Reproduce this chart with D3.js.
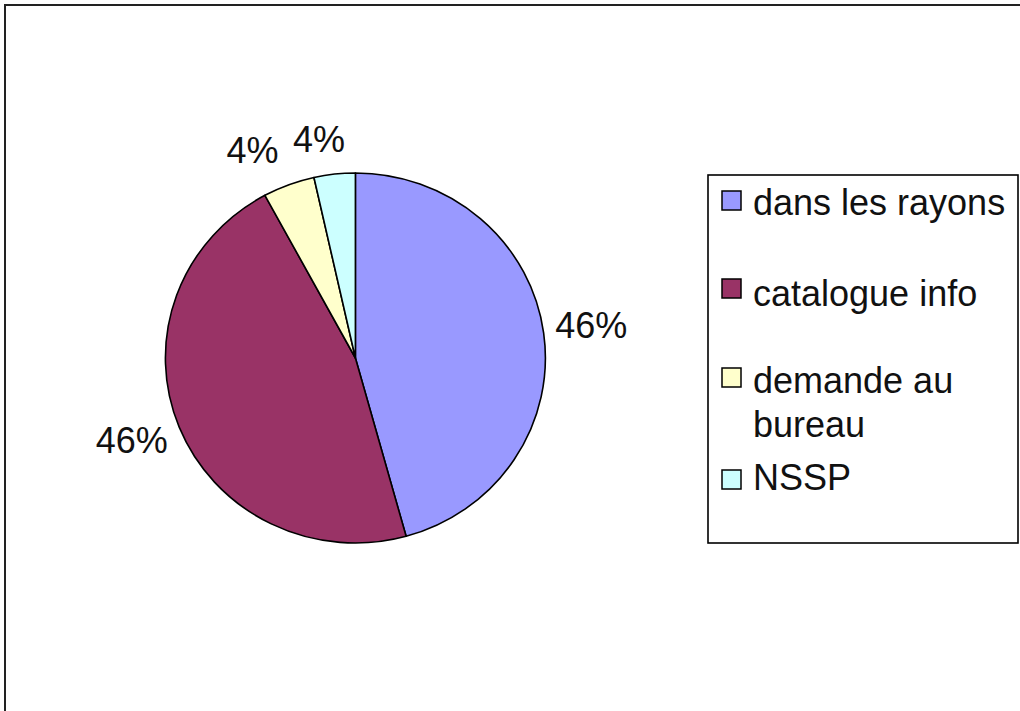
<!DOCTYPE html>
<html>
<head>
<meta charset="utf-8">
<script src="https://cdn.jsdelivr.net/npm/d3@7"></script>
<style>
  html, body { margin: 0; padding: 0; background: #fff; }
  svg { display: block; }
  text { font-family: "Liberation Sans", Arial, sans-serif; }
</style>
</head>
<body>
<svg id="chart" width="1020" height="711"></svg>
<script>
// ---- data ----
const categories = ["dans les rayons", "catalogue info", "demande au bureau", "NSSP"];
const legendLines = [["dans les rayons"], ["catalogue info"], ["demande au", "bureau"], ["NSSP"]];
const values = [45.7, 46.4, 4.4, 3.5];
const colors = ["#9999FF", "#993366", "#FFFFCC", "#CCFFFF"];

// ---- layout ----
const cx = 355.4, cy = 358, rx = 190, ry = 185;
const labelRadius = 238;
const fontSize = 36;
const labelNudge = [[0, 0], [-3, -6.5], [-19.5, 15.4], [-10.3, 18.1]];
const legendBaselines = [215, 306, 393, 490];
const legendSquareTops = [191, 279, 368, 470];
const lineHeight = 44;

const svg = d3.select("#chart");

// outer frame (extends past the bottom/right edges)
svg.append("rect")
  .attr("x", 5).attr("y", 5).attr("width", 1200).attr("height", 900)
  .attr("fill", "none").attr("stroke", "#222").attr("stroke-width", 2);

const pie = d3.pie().sort(null).value(d => d)
  .startAngle(0).endAngle(2 * Math.PI);
const arcs = pie(values);
const arc = d3.arc().innerRadius(0).outerRadius(rx);

const g = svg.append("g")
  .attr("transform", `translate(${cx},${cy}) scale(1,${ry / rx})`);

g.selectAll("path.slice")
  .data(arcs)
  .join("path")
  .attr("class", "slice")
  .attr("d", arc)
  .attr("fill", (d, i) => colors[i])
  .attr("stroke", "#000")
  .attr("stroke-width", 1.6)
  .attr("stroke-linejoin", "round")
  .attr("vector-effect", "non-scaling-stroke");

// percentage labels
const total = d3.sum(values);
const labelArc = d3.arc().innerRadius(labelRadius).outerRadius(labelRadius);
svg.append("g").selectAll("text.pct")
  .data(arcs)
  .join("text")
  .attr("class", "pct")
  .attr("x", (d, i) => cx + labelArc.centroid(d)[0] + labelNudge[i][0])
  .attr("y", (d, i) => cy + labelArc.centroid(d)[1] + labelNudge[i][1] + 12.5)
  .attr("text-anchor", "middle")
  .attr("font-size", fontSize)
  .attr("fill", "#111")
  .text(d => Math.round(d.value / total * 100) + "%");

// legend
const legend = svg.append("g");
legend.append("rect")
  .attr("x", 708).attr("y", 175).attr("width", 310).attr("height", 368)
  .attr("fill", "#fff").attr("stroke", "#000").attr("stroke-width", 1.6);

const item = legend.selectAll("g.item")
  .data(categories)
  .join("g")
  .attr("class", "item");

item.append("rect")
  .attr("x", 722)
  .attr("y", (d, i) => legendSquareTops[i])
  .attr("width", 19).attr("height", 19)
  .attr("fill", (d, i) => colors[i])
  .attr("stroke", "#000").attr("stroke-width", 1.5);

item.append("text")
  .attr("x", 753)
  .attr("y", (d, i) => legendBaselines[i])
  .attr("font-size", fontSize)
  .attr("fill", "#111")
  .each(function (d, i) {
    d3.select(this).selectAll("tspan")
      .data(legendLines[i])
      .join("tspan")
      .attr("x", 753)
      .attr("dy", (t, j) => j === 0 ? 0 : lineHeight)
      .text(t => t);
  });
</script>
</body>
</html>
